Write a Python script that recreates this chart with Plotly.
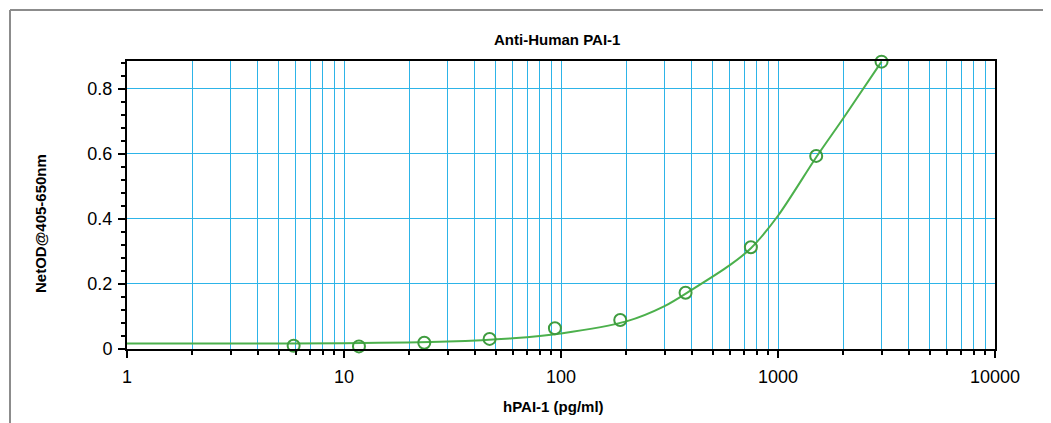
import plotly.graph_objects as go

# Measured standards
conc = [5.86, 11.72, 23.44, 46.88, 93.75, 187.5, 375, 750, 1500, 3000]
od = [0.010, 0.008, 0.019, 0.031, 0.064, 0.089, 0.173, 0.313, 0.594, 0.884]

# Fitted curve
curve_x = [1, 3, 10, 30, 60, 100, 200, 300, 400, 600, 750, 1000, 1500, 2000, 3000]
curve_y = [0.017, 0.017, 0.018, 0.023, 0.033, 0.048, 0.085, 0.132, 0.182, 0.258, 0.31, 0.41, 0.59, 0.71, 0.884]

title_text = "Anti-Human PAI-1"
x_title = "hPAI-1 (pg/ml)"
y_title = "NetOD@405-650nm"
x_ticks = [1, 10, 100, 1000, 10000]
x_ticklabels = ["1", "10", "100", "1000", "10000"]

OFF = 8  # default body margin of the html page
W, H = 1051 - OFF, 423 - OFF
L, R, T, B = 127 - OFF, 995 - OFF, 61 - OFF, 349 - OFF

grid = "#2db4e8"
font = "Liberation Sans, Arial, sans-serif"

fig = go.Figure()
fig.add_trace(go.Scatter(x=curve_x, y=curve_y, mode="lines",
                         line=dict(color="#4cb04c", width=2, shape="spline", smoothing=0.8),
                         hoverinfo="skip", showlegend=False, cliponaxis=False))
fig.add_trace(go.Scatter(x=conc, y=od, mode="markers",
                         marker=dict(symbol="circle-open", size=12, color="#3f9c3f",
                                     line=dict(width=2, color="#3f9c3f")),
                         showlegend=False, cliponaxis=False))

pw = R - L
ph = B - T
def px(x):  # page pixel -> paper
    return (x - OFF - L) / pw
def py(y):
    return (B - (y - OFF)) / ph

fig.update_layout(
    width=W, height=H,
    margin=dict(l=L, r=W - R, t=T, b=H - B, autoexpand=False),
    paper_bgcolor="white", plot_bgcolor="white",
    font=dict(family=font, color="black"),
    annotations=[
        dict(text="<b>" + title_text + "</b>", x=px(557), y=py(39), xref="paper", yref="paper",
             showarrow=False, font=dict(size=15), xanchor="center", yanchor="middle"),
        dict(text="<b>" + x_title + "</b>", x=px(553), y=py(406), xref="paper", yref="paper",
             showarrow=False, font=dict(size=15), xanchor="center", yanchor="middle"),
        dict(text="<b>" + y_title + "</b>", x=px(40), y=py(224), xref="paper", yref="paper",
             showarrow=False, font=dict(size=15), textangle=-90, xanchor="center", yanchor="middle"),
    ],
    shapes=[
        dict(type="line", xref="paper", yref="paper", x0=px(10), x1=px(10), y0=py(10), y1=py(440),
             line=dict(color="#8c8c8c", width=2)),
        dict(type="line", xref="paper", yref="paper", x0=px(10), x1=px(1070), y0=py(10), y1=py(10),
             line=dict(color="#8c8c8c", width=2)),
    ],
)

fig.update_xaxes(type="log", range=[0, 4], tickvals=x_ticks, ticktext=x_ticklabels,
                 ticks="outside", ticklen=7, tickwidth=1.5, tickcolor="black",
                 tickfont=dict(size=18, family=font), ticklabelstandoff=3,
                 showline=True, linecolor="black", linewidth=2, mirror=True,
                 showgrid=True, gridcolor=grid, gridwidth=1,
                 minor=dict(dtick="D1", ticks="outside", ticklen=4, tickcolor="black",
                            showgrid=True, gridcolor=grid, gridwidth=1),
                 zeroline=False)
fig.update_yaxes(range=[0, 0.886], tickvals=[0, 0.2, 0.4, 0.6, 0.8],
                 ticktext=["0", "0.2", "0.4", "0.6", "0.8"],
                 ticks="outside", ticklen=7, tickwidth=1.5, tickcolor="black",
                 tickfont=dict(size=18, family=font), ticklabelstandoff=2,
                 showline=True, linecolor="black", linewidth=2, mirror=True,
                 showgrid=True, gridcolor=grid, gridwidth=1,
                 minor=dict(dtick=0.04, tick0=0, ticks="outside", ticklen=4, tickcolor="black",
                            showgrid=False),
                 zeroline=False)

fig.write_html("out.html")
